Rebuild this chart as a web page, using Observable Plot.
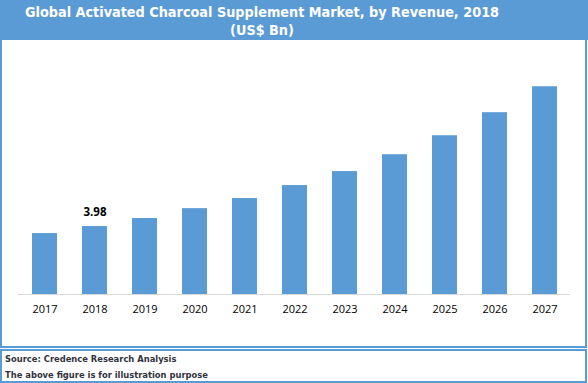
<!DOCTYPE html>
<html>
<head>
<meta charset="utf-8">
<script src="https://cdn.jsdelivr.net/npm/d3@7"></script>
<script src="https://cdn.jsdelivr.net/npm/@observablehq/plot@0.6"></script>
<style>
  html, body { margin: 0; padding: 0; background: #fff; }
  #wrap { position: relative; width: 588px; height: 383px; box-sizing: border-box; overflow: hidden; }
  #header { position: absolute; left: 0; top: 0; width: 588px; height: 40px; background: #5B9BD5;
    color: #fff; font-family: "DejaVu Sans Condensed", "DejaVu Sans", sans-serif; font-weight: bold;
    font-size: 14.3px; line-height: 18px; text-align: center; padding-top: 3px; padding-right: 64px; box-sizing: border-box; }
  #chartbox { position: absolute; left: 0; top: 40px; width: 587px; height: 308px; box-sizing: border-box;
    border-left: 2px solid #5B9BD5; border-right: 2px solid #5B9BD5; border-bottom: 2px solid #5B9BD5; }
  #footer { position: absolute; left: 0; top: 349px; width: 587px; height: 34px; box-sizing: border-box;
    border: 2px solid #5B9BD5; font-family: "DejaVu Sans Condensed", "DejaVu Sans", sans-serif; font-weight: bold;
    font-size: 9.3px; color: #333340; padding-left: 3px; }
  #footer div { height: 16px; line-height: 16px; }
</style>
</head>
<body>
<div id="wrap">
  <div id="header">Global Activated Charcoal Supplement Market, by Revenue, 2018<br>(US$ Bn)</div>
  <div id="chartbox"></div>
  <div id="footer">
    <div>Source: Credence Research Analysis</div>
    <div>The above figure is for illustration purpose</div>
  </div>
</div>
<script>
const years = ["2017","2018","2019","2020","2021","2022","2023","2024","2025","2026","2027"];
const revenue = [3.57, 3.98, 4.45, 5.03, 5.62, 6.38, 7.20, 8.19, 9.30, 10.65, 12.17];
const labelYears = ["2018"];
const labelTexts = ["3.98"];

const data = years.map((y, i) => ({year: y, value: revenue[i]}));
const labelData = labelYears.map((y, i) => ({year: y, value: revenue[years.indexOf(y)], text: labelTexts[i]}));

const chart = Plot.plot({
  width: 583,
  height: 306,
  marginLeft: 16,
  marginRight: 15,
  marginTop: 15,
  marginBottom: 52,
  style: {fontFamily: "'Open Sans', sans-serif", fontSize: "11px", color: "#000", background: "#fff"},
  x: {domain: years, paddingInner: 0.5, paddingOuter: 0.25, label: null},
  y: {domain: [0, 14], axis: null},
  marks: [
    Plot.barY(data, {x: "year", y: "value", fill: "#5B9BD5"}),
    Plot.ruleY([0], {stroke: "#d9d9d9", strokeWidth: 1}),
    Plot.text(labelData, {x: "year", y: "value", text: "text", dy: -14, fontWeight: "bold", fontSize: 11.5, fill: "#000"}),
    Plot.axisX({tickSize: 0, tickPadding: 11, fontSize: 11, fill: "#000"})
  ]
});
document.getElementById("chartbox").appendChild(chart);
</script>
</body>
</html>
